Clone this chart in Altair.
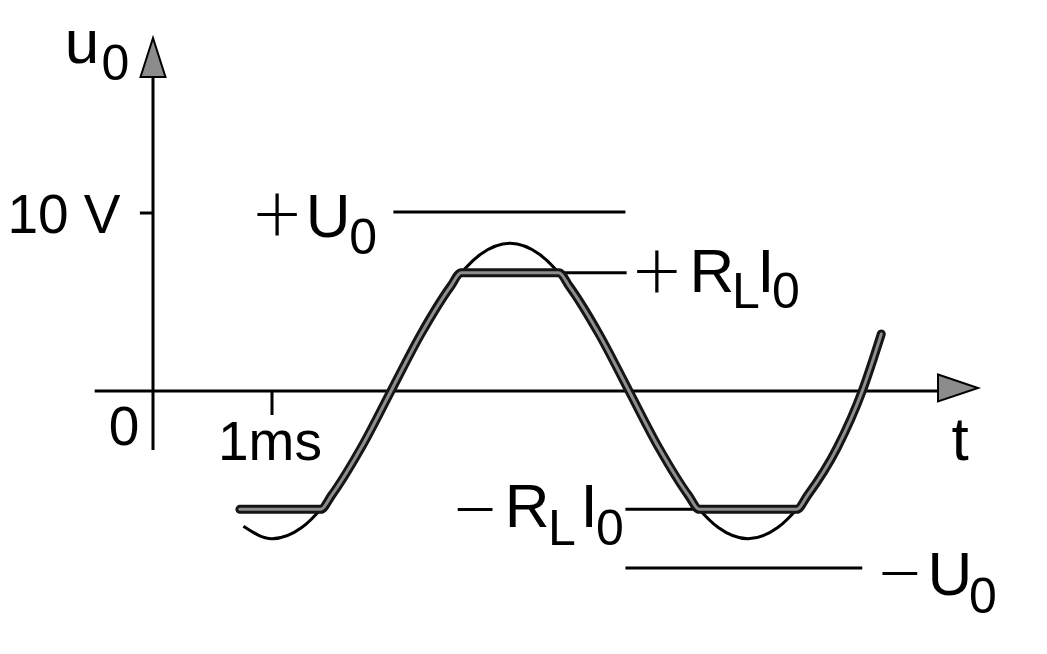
import altair as alt
import pandas as pd

# ---- data (t in ms, u in V) ----
sine_t = [0.76, 1.0, 1.25, 1.5, 1.75, 2.0, 2.25, 2.5, 2.75, 3.0, 3.25, 3.5, 3.75,
          4.0, 4.25, 4.5, 4.75, 5.0, 5.25, 5.5, 5.75, 5.96, 6.12]
sine_u = [-7.6, -8.3, -7.67, -5.87, -3.18, 0.0, 3.18, 5.87, 7.67, 8.3, 7.67, 5.87, 3.18,
          0.0, -3.18, -5.87, -7.67, -8.3, -7.67, -5.87, -3.18, 0.0, 3.2]

clip_t = [0.73, 1.41, 1.5, 1.75, 2.0, 2.25, 2.5, 2.59, 3.41, 3.5, 3.75, 4.0, 4.25,
          4.5, 4.59, 5.41, 5.5, 5.75, 5.96, 6.12]
clip_u = [-6.65, -6.65, -5.87, -3.18, 0.0, 3.18, 5.87, 6.65, 6.65, 5.87, 3.18, 0.0, -3.18,
          -5.87, -6.65, -6.65, -5.87, -3.18, 0.0, 3.2]

# level lines: +U0, -U0, +RL I0, -RL I0
level_t0 = [2.02, 3.97, 2.60, 3.97]
level_t1 = [3.97, 5.96, 3.98, 5.40]
level_u = [10.05, -9.95, 6.65, -6.65]

# axes and ticks (segments)
seg_t0 = [-0.49, 0.0, -0.11, 1.0]
seg_t1 = [6.60, 0.0, 0.0, 1.0]
seg_u0 = [0.0, -3.31, 10.0, 0.0]
seg_u1 = [0.0, 17.64, 10.0, -1.35]

# arrowheads
arrow_t = [0.0, 6.765]
arrow_u = [18.74, 0.17]

# labels
main_text = ["u", "U", "R", "I", "R", "I", "U", "t"]
main_t = [-0.597, 1.471, 4.697, 5.151, 3.143, 3.664, 6.697, 6.782]
main_u = [18.43, 8.65, 5.56, 5.56, -7.64, -7.64, -11.46, -3.88]

sign_text = ["+", "+", "\u2212", "\u2212"]
sign_t = [1.042, 4.235, 2.706, 6.277]
sign_u = [8.31, 5.11, -8.26, -11.85]

sub_text = ["0", "0", "L", "0", "L", "0", "0"]
sub_t = [-0.315, 1.765, 4.983, 5.319, 3.437, 3.840, 6.975]
sub_u = [17.47, 7.70, 4.66, 4.66, -8.65, -8.65, -12.47]

tick_text = ["10 V", "0", "1ms"]
tick_t = [-0.748, -0.244, 0.983]
tick_u = [8.88, -3.03, -3.88]

# ---- scales (119 px per ms, 17.8 px per V) ----
W, H = 1020, 620
tmin = -(153 - 8) / 119
tmax = tmin + W / 119
umax = (391 - 8) / 17.8
umin = umax - H / 17.8
xs = alt.Scale(domain=[tmin, tmax], nice=False, zero=False)
ys = alt.Scale(domain=[umin, umax], nice=False, zero=False)

sine = pd.DataFrame({"t": sine_t, "u": sine_u})
clip = pd.DataFrame({"t": clip_t, "u": clip_u})
levels = pd.DataFrame({"t0": level_t0, "t1": level_t1, "u": level_u})
segs = pd.DataFrame({"t0": seg_t0, "t1": seg_t1, "u0": seg_u0, "u1": seg_u1})
arrows = pd.DataFrame({"t": arrow_t, "u": arrow_u,
                       "shape": ["M-0.64,1L0.64,1L0,-1Z", "M-1,-0.675L1,0L-1,0.675Z"],
                       "size": [1521, 1600]})
main = pd.DataFrame({"text": main_text, "t": main_t, "u": main_u})
signs = pd.DataFrame({"text": sign_text, "t": sign_t, "u": sign_u})
sub = pd.DataFrame({"text": sub_text, "t": sub_t, "u": sub_u})
ticks = pd.DataFrame({"text": tick_text, "t": tick_t, "u": tick_u})

X = lambda f: alt.X(f, type="quantitative", scale=xs, axis=None)
Y = lambda f: alt.Y(f, type="quantitative", scale=ys, axis=None)

axes_layer = alt.Chart(segs).mark_rule(color="black", strokeWidth=3).encode(
    x=X("t0"), x2="t1", y=Y("u0"), y2="u1")

level_layer = alt.Chart(levels).mark_rule(color="black", strokeWidth=3).encode(
    x=X("t0"), x2="t1", y=Y("u"))

sine_layer = alt.Chart(sine).mark_line(color="black", strokeWidth=3,
                                       interpolate="monotone").encode(
    x=X("t"), y=Y("u"), order="t:Q")

clip_outer = alt.Chart(clip).mark_line(color="#151515", strokeWidth=9,
                                       interpolate="monotone", strokeCap="round",
                                       strokeJoin="round").encode(
    x=X("t"), y=Y("u"), order="t:Q")
clip_inner = alt.Chart(clip).mark_line(color="#8e8e8e", strokeWidth=3,
                                       interpolate="monotone", strokeCap="round",
                                       strokeJoin="round").encode(
    x=X("t"), y=Y("u"), order="t:Q")

arrow_layer = alt.Chart(arrows).mark_point(filled=True, fill="#8c8c8c", stroke="black",
                                           strokeWidth=2, opacity=1).encode(
    x=X("t"), y=Y("u"),
    shape=alt.Shape("shape:N", scale=None),
    size=alt.Size("size:Q", scale=None))

font = "Liberation Sans, Arial, Helvetica, sans-serif"
main_layer = alt.Chart(main).mark_text(font=font, fontSize=62, align="center",
                                       baseline="alphabetic", color="black").encode(
    x=X("t"), y=Y("u"), text="text:N")
sign_layer = alt.Chart(signs).mark_text(font="Lato, Liberation Sans, sans-serif",
                                        fontSize=84, fontWeight=300, align="center",
                                        baseline="alphabetic", color="black").encode(
    x=X("t"), y=Y("u"), text="text:N")
sub_layer = alt.Chart(sub).mark_text(font="Liberation Sans Narrow, Liberation Sans, Arial, sans-serif",
                                     fontSize=50, align="center",
                                     baseline="alphabetic", color="black").encode(
    x=X("t"), y=Y("u"), text="text:N")
tick_layer = alt.Chart(ticks).mark_text(font=font, fontSize=55, align="center",
                                        baseline="alphabetic", color="black").encode(
    x=X("t"), y=Y("u"), text="text:N")

chart = alt.layer(
    axes_layer, level_layer, sine_layer, clip_outer, clip_inner, arrow_layer,
    main_layer, sign_layer, sub_layer, tick_layer
).properties(
    width=W, height=H, autosize=alt.AutoSizeParams(type="none"), padding=0,
    background="white"
).configure_view(stroke=None)

chart.save("out.html", embed_options={"renderer": "svg", "actions": False})
